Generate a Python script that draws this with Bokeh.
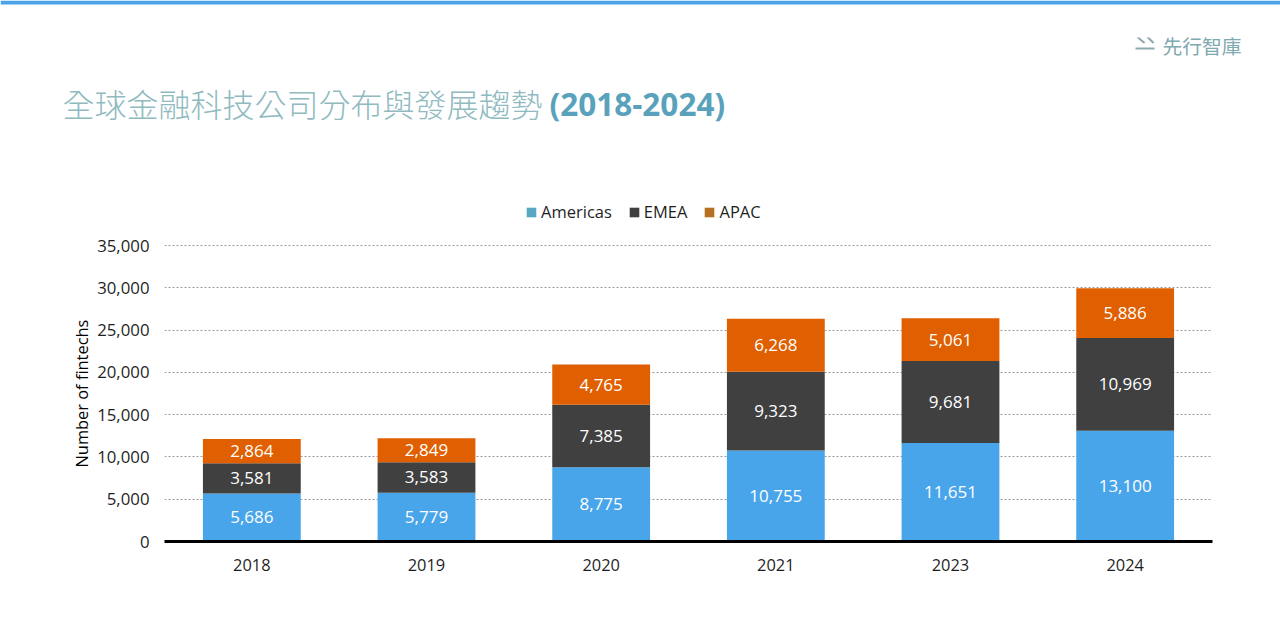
from bokeh.plotting import figure
from bokeh.core.properties import value
from bokeh.layouts import column
from bokeh.models import (ColumnDataSource, FactorRange, Range1d, Label, LabelSet, Legend, LegendItem,
                          BoxAnnotation, PolyAnnotation, SingleIntervalTicker, NumeralTickFormatter, Title)
from bokeh.embed import file_html
from bokeh.resources import INLINE

years = ["2018", "2019", "2020", "2021", "2023", "2024"]
americas = [5686, 5779, 8775, 10755, 11651, 13100]
emea = [3581, 3583, 7385, 9323, 9681, 10969]
apac = [2864, 2849, 4765, 6268, 5061, 5886]
series_names = ["Americas", "EMEA", "APAC"]
bar_colors = ["#49a5ea", "#404040", "#e05f00"]
legend_colors = ["#58a8c2", "#404040", "#b5711f"]
title_cjk = "全球金融科技公司分布與發展趨勢"
title_latin = "(2018-2024)"
logo_text = "先行智庫"
y_label = "Number of fintechs"

FONT = "Open Sans"
CJK = "Noto Sans CJK TC"
HEAD = 225

# ---------- header: page band, title, logo, legend ----------
h = figure(width=1280, height=HEAD, x_range=Range1d(0, 1280), y_range=Range1d(0, HEAD),
           output_backend="svg", toolbar_location=None, x_axis_location=None, y_axis_location=None,
           min_border=0, background_fill_color="#ffffff", border_fill_color="#ffffff",
           frame_align=False)
h.outline_line_color = None
h.grid.visible = False

h.add_layout(BoxAnnotation(left=0, right=1280, top=HEAD, bottom=HEAD - 4,
                           left_units="screen", right_units="screen",
                           top_units="screen", bottom_units="screen",
                           fill_color="#4aa3e8", fill_alpha=1, line_color=None))

lab = dict(x_units="screen", y_units="screen", text_baseline="middle", text_align="left")
h.add_layout(Label(x=62, y=HEAD - 102, text=title_cjk, text_font=CJK + " Light",
                   text_font_size="32px", text_color="#8fbabf", **lab))
h.add_layout(Label(x=549, y=HEAD - 103, text=title_latin, text_font=FONT, text_font_style="bold",
                   text_font_size="31.5px", text_color="#5aa2bb", **lab))
h.add_layout(Label(x=1162, y=HEAD - 45, text=logo_text, text_font=CJK,
                   text_font_size="19.8px", text_color="#7fa9b0", **lab))
for xs, ys in (([1136, 1139, 1145, 1143], [HEAD - 37, HEAD - 37, HEAD - 42, HEAD - 43]),
               ([1146, 1149, 1154, 1152], [HEAD - 37, HEAD - 37, HEAD - 42, HEAD - 43]),
               ([1135, 1154, 1154, 1135], [HEAD - 47, HEAD - 47, HEAD - 49, HEAD - 49])):
    h.add_layout(PolyAnnotation(xs=xs, ys=ys, xs_units="screen", ys_units="screen",
                                fill_color="#8fa9ad", fill_alpha=1, line_color=None))

items = []
nan = float("nan")
for name, col in zip(series_names, legend_colors):
    r = h.quad(left=[nan], right=[nan], top=[nan], bottom=[nan], color=col, line_color=None)
    items.append(LegendItem(label=name, renderers=[r]))
legend = Legend(items=items, orientation="horizontal", location=(525, 2),
                background_fill_alpha=0, border_line_color=None,
                label_text_font=FONT, label_text_font_size="16.5px", label_text_color="#1f1f1f",
                glyph_width=12, glyph_height=12, spacing=16, label_standoff=4, padding=6, margin=0)
h.add_layout(legend, "center")

# ---------- chart ----------
p = figure(width=1280, height=622 - HEAD, x_range=FactorRange(factors=years, range_padding=0),
           y_range=(0, 37365), output_backend="svg", toolbar_location=None,
           min_border_left=164, min_border_right=68, min_border_top=0, min_border_bottom=81,
           background_fill_color="#ffffff", border_fill_color="#ffffff", frame_align=False)
p.outline_line_color = None

src = ColumnDataSource(dict(year=years, Americas=americas, EMEA=emea, APAC=apac))
p.vbar_stack(series_names, x="year", width=0.56, color=bar_colors, line_color=None, source=src)

mid_a = [a / 2 for a in americas]
mid_e = [a + e / 2 for a, e in zip(americas, emea)]
mid_p = [a + e + q / 2 for a, e, q in zip(americas, emea, apac)]
for vals, mids in ((americas, mid_a), (emea, mid_e), (apac, mid_p)):
    ls = ColumnDataSource(dict(x=years, y=mids, t=[f"{v:,}" for v in vals]))
    p.add_layout(LabelSet(x="x", y="y", text="t", source=ls, text_color="#ffffff",
                          text_font=value(FONT), text_font_size="17px",
                          text_align="center", text_baseline="middle"))

p.xgrid.grid_line_color = None
p.ygrid.grid_line_color = "#999999"
p.ygrid.grid_line_dash = [2, 2]
p.ygrid.grid_line_width = 1
p.yaxis.ticker = SingleIntervalTicker(interval=5000, num_minor_ticks=0)
p.yaxis.formatter = NumeralTickFormatter(format="0,0")
p.yaxis.axis_line_color = None
p.yaxis.major_tick_line_color = None
p.yaxis.minor_tick_line_color = None
p.yaxis.major_label_text_font = FONT
p.yaxis.major_label_text_font_size = "16.8px"
p.yaxis.major_label_text_color = "#1f1f1f"
p.yaxis.major_label_standoff = 9
p.add_layout(Title(text=y_label, align="left", offset=74, standoff=3, text_font=FONT,
                   text_font_style="normal", text_font_size="16.4px", text_color="#000000"), "left")
p.xaxis.axis_line_color = "#000000"
p.xaxis.axis_line_width = 3
p.xaxis.major_tick_line_color = None
p.xaxis.minor_tick_line_color = None
p.xaxis.major_label_text_font = FONT
p.xaxis.major_label_text_font_size = "16.4px"
p.xaxis.major_label_text_color = "#1f1f1f"
p.xaxis.major_label_standoff = 11

layout = column(h, p, spacing=0)
open("out.html", "w").write(file_html(layout, INLINE))
